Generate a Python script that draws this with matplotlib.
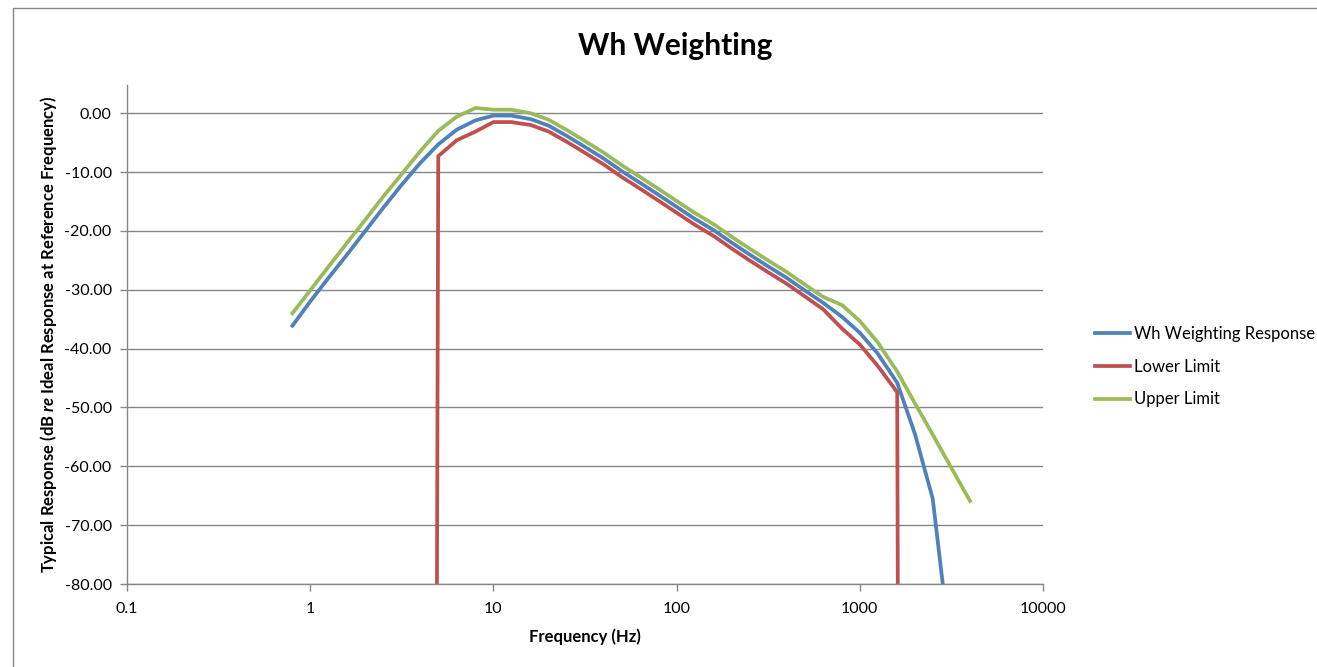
import matplotlib
matplotlib.use('Agg')
import matplotlib.pyplot as plt
from matplotlib.lines import Line2D

# 1/3 octave band centre frequencies (Hz)
wh_freq = [0.8, 1, 1.25, 1.6, 2, 2.5, 3.15, 4, 5, 6.3, 8, 10, 12.5, 16, 20, 25, 31.5, 40,
           50, 63, 80, 100, 125, 160, 200, 250, 315, 400, 500, 630, 800, 1000, 1250,
           1600, 2000, 2500, 3150]
wh_resp = [-36.1, -32.0, -28.1, -23.9, -20.0, -16.1, -12.2, -8.4, -5.3, -2.8, -1.2, -0.4,
           -0.4, -1.0, -2.1, -3.8, -5.7, -7.7, -9.8, -11.8, -13.9, -15.9, -17.9, -19.9,
           -22.0, -24.0, -26.0, -28.0, -30.1, -32.2, -34.6, -37.3, -40.8, -45.8, -54.5,
           -65.5, -92.0]

lower_freq = [4, 5, 6.3, 8, 10, 12.5, 16, 20, 25, 31.5, 40, 50, 63, 80, 100, 125, 160,
              200, 250, 315, 400, 500, 630, 800, 1000, 1250, 1600, 2000]
lower_lim = [-1000, -7.3, -4.6, -3.1, -1.5, -1.5, -2.0, -3.1, -4.8, -6.7, -8.7, -10.8,
             -12.8, -14.9, -16.9, -18.9, -20.9, -23.0, -25.0, -27.0, -29.0, -31.1, -33.3,
             -36.6, -39.3, -42.9, -47.4, -1000]

upper_freq = [0.8, 1, 1.25, 1.6, 2, 2.5, 3.15, 4, 5, 6.3, 8, 10, 12.5, 16, 20, 25, 31.5,
              40, 50, 63, 80, 100, 125, 160, 200, 250, 315, 400, 500, 630, 800, 1000,
              1250, 1600, 2000, 2500, 3150, 4000]
upper_lim = [-34.0, -30.1, -26.2, -21.9, -18.1, -14.2, -10.4, -6.4, -3.0, -0.6, 0.9, 0.6,
             0.6, 0.0, -1.1, -2.8, -4.7, -6.7, -8.8, -10.8, -12.9, -14.9, -16.9, -18.9,
             -21.0, -23.0, -25.0, -27.0, -29.1, -31.2, -32.6, -35.3, -38.9, -43.9, -49.3,
             -54.6, -60.2, -65.9]

x_ticks = [0.1, 1, 10, 100, 1000, 10000]
x_labels = ['0.1', '1', '10', '100', '1000', '10000']
y_ticks = [-80, -70, -60, -50, -40, -30, -20, -10, 0]

plt.rcParams['font.family'] = ['Lato', 'DejaVu Sans']
plt.rcParams['axes.unicode_minus'] = False
plt.rcParams['mathtext.fontset'] = 'custom'
plt.rcParams['mathtext.it'] = 'Lato:bold:italic'
plt.rcParams['mathtext.rm'] = 'Lato:bold'

grey = '#868686'

fig = plt.figure(figsize=(13.17, 6.67), dpi=100)
ax = fig.add_axes([127 / 1317, 83 / 667, 916 / 1317, 499 / 667])

ax.plot(wh_freq, wh_resp, color='#4F81BD', lw=2.7, label='Wh Weighting Response')
ax.plot(lower_freq, lower_lim, color='#C0504D', lw=2.7, label='Lower Limit')
ax.plot(upper_freq, upper_lim, color='#9BBB59', lw=2.7, label='Upper Limit')

ax.set_xscale('log')
ax.set_xlim(0.1, 10000)
ax.set_ylim(-80, 4.8)
ax.set_xticks(x_ticks)
ax.set_xticklabels(x_labels)
ax.minorticks_off()
ax.set_yticks(y_ticks)
ax.set_yticklabels(['%.2f' % v for v in y_ticks])
ax.tick_params(axis='both', labelsize=11.5, color=grey, length=5, width=1)
ax.tick_params(axis='x', pad=8)
ax.tick_params(axis='y', pad=6)
ax.grid(axis='y', color=grey, lw=1)
ax.set_axisbelow(True)
for s in ['top', 'right']:
    ax.spines[s].set_visible(False)
for s in ['left', 'bottom']:
    ax.spines[s].set_color(grey)
    ax.spines[s].set_linewidth(1)

ax.set_xlabel('Frequency (Hz)', fontsize=12, fontweight='bold', labelpad=9)
ax.set_ylabel('Typical Response (dB $re$ Ideal Response at Reference Frequency)',
              fontsize=12, fontweight='bold', labelpad=4)
fig.suptitle('Wh Weighting', x=675 / 1317, y=1 - 32 / 667,
             fontsize=21.5, fontweight='bold')

ax.legend(loc='upper left', bbox_to_anchor=(1095 / 1317, 1 - 326 / 667),
          bbox_transform=fig.transFigure, frameon=False, fontsize=12,
          handlelength=2.1, handletextpad=0.25, labelspacing=1.0,
          borderpad=0, borderaxespad=0)

# chart area border (top and left edges visible)
fig.add_artist(Line2D([13 / 1317, 13 / 1317, 1.0], [0.0, 1 - 8 / 667, 1 - 8 / 667],
                      transform=fig.transFigure, color=grey, lw=1))

fig.savefig('out.png', dpi=100)
